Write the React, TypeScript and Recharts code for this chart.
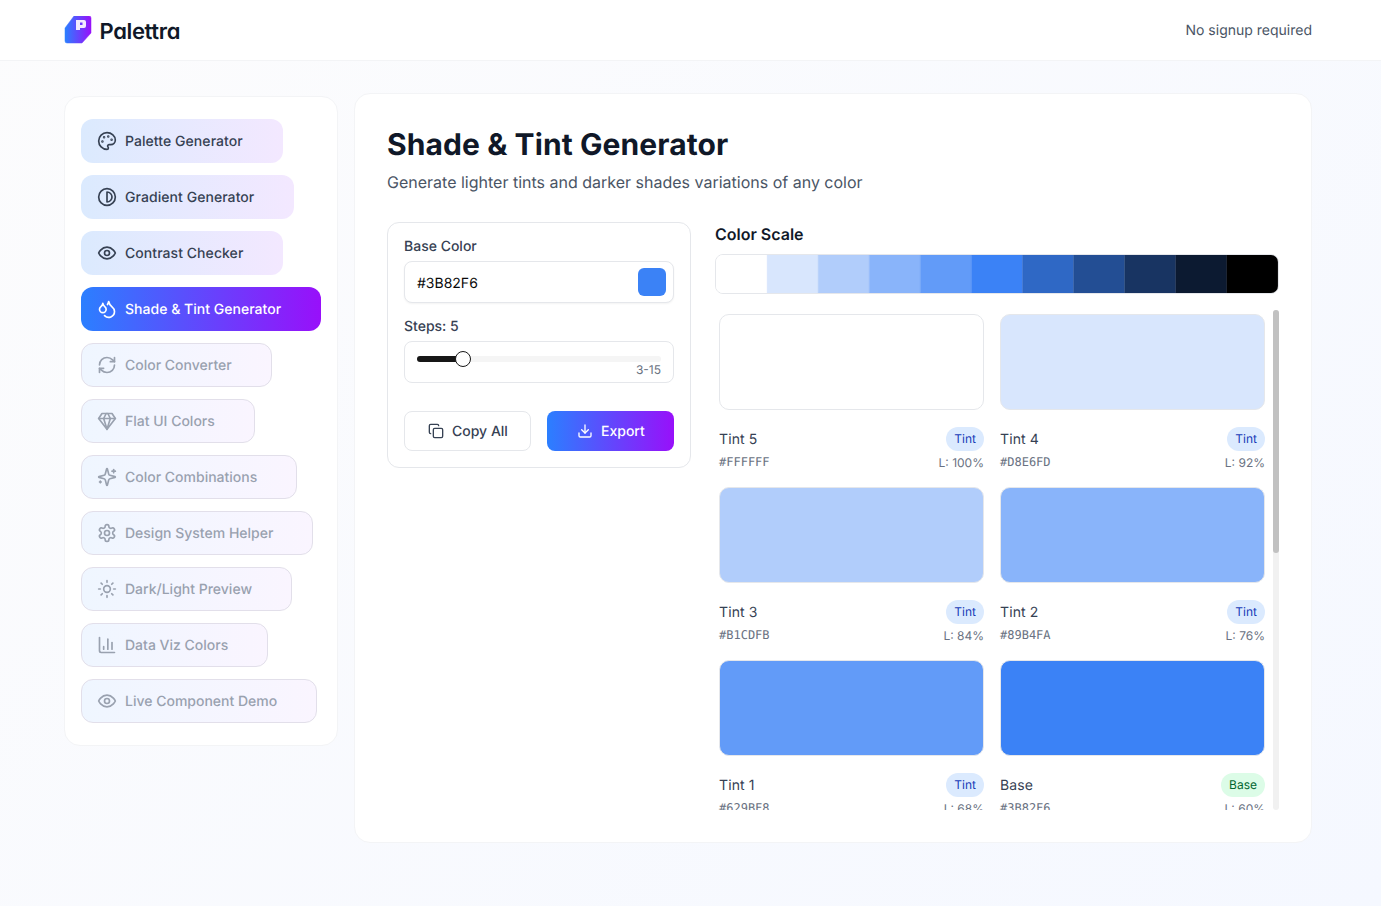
import { Bar, BarChart, Cell, XAxis, YAxis } from "recharts";
import type { CSSProperties, ReactNode } from "react";

const activeTools = ["Palette Generator", "Gradient Generator", "Contrast Checker"];
const currentTool = "Shade & Tint Generator";
const lockedTools = [
  "Color Converter",
  "Flat UI Colors",
  "Color Combinations",
  "Design System Helper",
  "Dark/Light Preview",
  "Data Viz Colors",
  "Live Component Demo",
];

const scaleHex = [
  "#FFFFFF",
  "#D8E6FD",
  "#B1CDFB",
  "#89B4FA",
  "#629BF8",
  "#3B82F6",
  "#2F68C5",
  "#234E94",
  "#183462",
  "#0C1A31",
  "#000000",
];

const swatchNames = ["Tint 5", "Tint 4", "Tint 3", "Tint 2", "Tint 1", "Base"];
const swatchHex = ["#FFFFFF", "#D8E6FD", "#B1CDFB", "#89B4FA", "#629BF8", "#3B82F6"];
const swatchKinds = ["Tint", "Tint", "Tint", "Tint", "Tint", "Base"];
const swatchLightness = [100, 92, 84, 76, 68, 60];

const scaleData = scaleHex.map((hex) => ({ hex, value: 1 }));
const swatchRows = [0, 2, 4].map((start) =>
  [start, start + 1].map((i) => ({
    name: swatchNames[i],
    hex: swatchHex[i],
    kind: swatchKinds[i],
    lightness: swatchLightness[i],
    value: 1,
  })),
);

const FONT = "Inter, sans-serif";
const MONO = "'DejaVu Sans Mono', monospace";
const BRAND = "linear-gradient(90deg, #2b7fff, #9810fa)";

function Text({
  x,
  cy,
  right,
  size = 14,
  color = "#364153",
  weight = 400,
  font = FONT,
  spacing = 0,
  children,
}: {
  x?: number;
  cy: number;
  right?: number;
  size?: number;
  color?: string;
  weight?: number;
  font?: string;
  spacing?: number;
  children: ReactNode;
}) {
  const style: CSSProperties = {
    position: "absolute",
    top: cy - 14,
    height: 30,
    lineHeight: "30px",
    fontSize: size,
    color,
    fontWeight: weight,
    fontFamily: font,
    letterSpacing: spacing,
    whiteSpace: "nowrap",
  };
  if (x !== undefined) style.left = x;
  if (right !== undefined) style.right = right;
  return <div style={style}>{children}</div>;
}

function Box({ style }: { style: CSSProperties }) {
  return <div style={{ position: "absolute", boxSizing: "border-box", ...style }} />;
}

function Icon({ size = 20, children }: { size?: number; children: ReactNode }) {
  return (
    <svg
      width={size}
      height={size}
      viewBox="0 0 24 24"
      fill="none"
      stroke="currentColor"
      strokeWidth={2}
      strokeLinecap="round"
      strokeLinejoin="round"
      style={{ flex: "none", display: "block" }}
    >
      {children}
    </svg>
  );
}

const toolIcons: Record<string, ReactNode> = {
  "Palette Generator": (
    <>
      <circle cx="13.5" cy="6.5" r=".5" fill="currentColor" />
      <circle cx="17.5" cy="10.5" r=".5" fill="currentColor" />
      <circle cx="8.5" cy="7.5" r=".5" fill="currentColor" />
      <circle cx="6.5" cy="12.5" r=".5" fill="currentColor" />
      <path d="M12 2C6.5 2 2 6.5 2 12s4.5 10 10 10c.926 0 1.648-.746 1.648-1.688 0-.437-.18-.835-.437-1.125-.29-.289-.438-.652-.438-1.125a1.64 1.64 0 0 1 1.668-1.668h1.996c3.051 0 5.555-2.503 5.555-5.554C21.965 6.012 17.461 2 12 2z" />
    </>
  ),
  "Gradient Generator": (
    <>
      <circle cx="12" cy="12" r="10" />
      <path d="M12 18a6 6 0 0 0 0-12v12z" />
    </>
  ),
  "Contrast Checker": (
    <>
      <path d="M2 12s3-7 10-7 10 7 10 7-3 7-10 7-10-7-10-7Z" />
      <circle cx="12" cy="12" r="3" />
    </>
  ),
  "Shade & Tint Generator": (
    <>
      <path d="M7 16.3c2.2 0 4-1.83 4-4.05 0-1.16-.57-2.26-1.71-3.19S7.29 6.75 7 5.3c-.29 1.45-1.14 2.84-2.29 3.76S3 11.1 3 12.25c0 2.22 1.8 4.05 4 4.05z" />
      <path d="M12.56 6.6A10.97 10.97 0 0 0 14 3.02c.5 2.5 2 4.9 4 6.5s3 3.5 3 5.5a6.98 6.98 0 0 1-11.91 4.97" />
    </>
  ),
  "Color Converter": (
    <>
      <path d="M3 12a9 9 0 0 1 9-9 9.75 9.75 0 0 1 6.74 2.74L21 8" />
      <path d="M21 3v5h-5" />
      <path d="M21 12a9 9 0 0 1-9 9 9.75 9.75 0 0 1-6.74-2.74L3 16" />
      <path d="M8 16H3v5" />
    </>
  ),
  "Flat UI Colors": (
    <>
      <path d="M6 3h12l4 6-10 13L2 9Z" />
      <path d="M11 3 8 9l4 13 4-13-3-6" />
      <path d="M2 9h20" />
    </>
  ),
  "Color Combinations": (
    <>
      <path d="M9.937 15.5A2 2 0 0 0 8.5 14.063l-6.135-1.582a.5.5 0 0 1 0-.962L8.5 9.936A2 2 0 0 0 9.937 8.5l1.582-6.135a.5.5 0 0 1 .963 0L14.063 8.5A2 2 0 0 0 15.5 9.937l6.135 1.581a.5.5 0 0 1 0 .964L15.5 14.063a2 2 0 0 0-1.437 1.437l-1.582 6.135a.5.5 0 0 1-.963 0z" />
      <path d="M20 3v4" />
      <path d="M22 5h-4" />
      <path d="M4 17v2" />
      <path d="M5 18H3" />
    </>
  ),
  "Design System Helper": (
    <>
      <path d="M12.22 2h-.44a2 2 0 0 0-2 2v.18a2 2 0 0 1-1 1.73l-.43.25a2 2 0 0 1-2 0l-.15-.08a2 2 0 0 0-2.73.73l-.22.38a2 2 0 0 0 .73 2.73l.15.1a2 2 0 0 1 1 1.72v.51a2 2 0 0 1-1 1.74l-.15.09a2 2 0 0 0-.73 2.73l.22.38a2 2 0 0 0 2.73.73l.15-.08a2 2 0 0 1 2 0l.43.25a2 2 0 0 1 1 1.73V20a2 2 0 0 0 2 2h.44a2 2 0 0 0 2-2v-.18a2 2 0 0 1 1-1.73l.43-.25a2 2 0 0 1 2 0l.15.08a2 2 0 0 0 2.73-.73l.22-.39a2 2 0 0 0-.73-2.73l-.15-.08a2 2 0 0 1-1-1.74v-.5a2 2 0 0 1 1-1.74l.15-.09a2 2 0 0 0 .73-2.73l-.22-.38a2 2 0 0 0-2.73-.73l-.15.08a2 2 0 0 1-2 0l-.43-.25a2 2 0 0 1-1-1.73V4a2 2 0 0 0-2-2z" />
      <circle cx="12" cy="12" r="3" />
    </>
  ),
  "Dark/Light Preview": (
    <>
      <circle cx="12" cy="12" r="4" />
      <path d="M12 2v2" />
      <path d="M12 20v2" />
      <path d="m4.93 4.93 1.41 1.41" />
      <path d="m17.66 17.66 1.41 1.41" />
      <path d="M2 12h2" />
      <path d="M20 12h2" />
      <path d="m6.34 17.66-1.41 1.41" />
      <path d="m19.07 4.93-1.41 1.41" />
    </>
  ),
  "Data Viz Colors": (
    <>
      <path d="M3 3v16a2 2 0 0 0 2 2h16" />
      <path d="M18 17V9" />
      <path d="M13 17V5" />
      <path d="M8 17v-3" />
    </>
  ),
  "Live Component Demo": (
    <>
      <path d="M2 12s3-7 10-7 10 7 10 7-3 7-10 7-10-7-10-7Z" />
      <circle cx="12" cy="12" r="3" />
    </>
  ),
};

function NavItem({ label, state }: { label: string; state: "active" | "current" | "locked" }) {
  const looks: Record<string, CSSProperties> = {
    active: { background: "linear-gradient(90deg, #dbeafe, #f3e8ff)", color: "#364153", letterSpacing: 0.06 },
    current: { background: BRAND, color: "#ffffff", letterSpacing: 0.02 },
    locked: {
      background: "linear-gradient(90deg, #eff6ff, #faf5ff)",
      color: "#99a1af",
      border: "1px solid #e2dfea",
    },
  };
  return (
    <div
      style={{
        display: "inline-flex",
        alignItems: "center",
        alignSelf: "flex-start",
        boxSizing: "border-box",
        height: 44,
        gap: 8,
        paddingLeft: state === "locked" ? 15 : 16,
        paddingRight: state === "locked" ? 39 : 40,
        borderRadius: 12,
        fontFamily: FONT,
        fontSize: 14,
        fontWeight: 500,
        whiteSpace: "nowrap",
        ...looks[state],
      }}
    >
      <Icon>{toolIcons[label]}</Icon>
      {label}
    </div>
  );
}

function ColorScale() {
  return (
    <div
      style={{
        position: "absolute",
        left: 715,
        top: 254,
        width: 564,
        height: 40,
        boxSizing: "border-box",
        border: "1px solid #e5e7eb",
        borderRadius: 8,
        overflow: "hidden",
      }}
    >
      <BarChart
        width={562}
        height={38}
        data={scaleData}
        margin={{ top: 0, right: 0, bottom: 0, left: 0 }}
        barCategoryGap={0}
      >
        <XAxis dataKey="hex" hide />
        <YAxis hide domain={[0, 1]} />
        <Bar dataKey="value" isAnimationActive={false}>
          {scaleData.map((d) => (
            <Cell key={d.hex} fill={d.hex} stroke={d.hex} strokeWidth={0.4} />
          ))}
        </Bar>
      </BarChart>
    </div>
  );
}

function SwatchRow({ row, top }: { row: (typeof swatchRows)[number]; top: number }) {
  return (
    <div style={{ position: "absolute", left: 0, top, width: 562, height: 160 }}>
      <BarChart
        width={562}
        height={96}
        data={row}
        margin={{ top: 0.5, right: 0, bottom: 0.5, left: 0 }}
        barCategoryGap={8.5}
      >
        <XAxis dataKey="name" hide />
        <YAxis hide domain={[0, 1]} />
        <Bar dataKey="value" radius={9.5} isAnimationActive={false}>
          {row.map((d) => (
            <Cell key={d.name} fill={d.hex} stroke="#e5e7eb" strokeWidth={1} />
          ))}
        </Bar>
      </BarChart>
      {row.map((d, i) => {
        const left = 8 + i * 281;
        const isBase = d.kind === "Base";
        return (
          <div key={d.name} style={{ position: "absolute", left, top: 0, width: 265, height: 160 }}>
            <Text x={0} cy={125} spacing={0.12}>
              {d.name}
            </Text>
            <div
              style={{
                position: "absolute",
                right: 0,
                top: 113,
                height: 24,
                lineHeight: "24px",
                padding: "0 8px",
                borderRadius: 12,
                fontSize: 12,
                fontFamily: FONT,
                background: isBase ? "#dcfce7" : "#dbeafe",
                color: isBase ? "#016630" : "#193cb8",
              }}
            >
              {d.kind}
            </div>
            <Text x={0} cy={147} size={12} color="#6a7282" font={MONO}>
              {d.hex}
            </Text>
            <Text right={0} cy={148} size={12} color="#6a7282">
              L: {d.lightness}%
            </Text>
          </div>
        );
      })}
    </div>
  );
}

export default function App() {
  return (
    <div
      style={{
        position: "absolute",
        left: 0,
        top: 0,
        width: 1381,
        height: 906,
        overflow: "hidden",
        fontFamily: FONT,
        textRendering: "geometricPrecision",
        background: "linear-gradient(135deg, #fcfcfd, #f5f8ff)",
      }}
    >
      {/* header */}
      <Box style={{ left: 0, top: 0, width: 1381, height: 61, background: "#ffffff", borderBottom: "1px solid #f3f4f6" }} />
      <svg width={28} height={28} viewBox="0 0 28 28" style={{ position: "absolute", left: 64, top: 16 }}>
        <defs>
          <linearGradient id="logoFill" x1="0" y1="0" x2="1" y2="0">
            <stop offset="0" stopColor="#2b7fff" />
            <stop offset="1" stopColor="#9810fa" />
          </linearGradient>
        </defs>
        <path
          d="M10 0H25a2 2 0 0 1 2 2V17L18 27H3a2 2 0 0 1-2-2V12Z"
          fill="url(#logoFill)"
          stroke="url(#logoFill)"
          strokeWidth={0.5}
          strokeLinejoin="round"
        />
        <path
          fillRule="evenodd"
          d="M12 4H20a2 2 0 0 1 2 2V10a2 2 0 0 1-2 2H16V14H12ZM16 6.5V9H18.5V6.5Z"
          fill="#f3eafe"
        />
      </svg>
      <div
        style={{
          position: "absolute",
          left: 99.5,
          top: 17,
          lineHeight: "30px",
          fontSize: 22,
          fontWeight: 600,
          color: "#101828",
          fontFeatureSettings: "'cv11'",
          letterSpacing: -0.35,
          whiteSpace: "nowrap",
        }}
      >
        Palettra
      </div>
      <Text right={69} cy={30} color="#4a5565">
        No signup required
      </Text>

      {/* sidebar */}
      <div
        style={{
          position: "absolute",
          left: 64,
          top: 96,
          width: 274,
          height: 650,
          boxSizing: "border-box",
          background: "#ffffff",
          border: "1px solid #f3f4f6",
          borderRadius: 16,
          padding: "22px 16px",
          display: "flex",
          flexDirection: "column",
          gap: 12,
        }}
      >
        {activeTools.map((t) => (
          <NavItem key={t} label={t} state="active" />
        ))}
        <NavItem label={currentTool} state="current" />
        {lockedTools.map((t) => (
          <NavItem key={t} label={t} state="locked" />
        ))}
      </div>

      {/* main panel */}
      <Box
        style={{
          left: 354,
          top: 93,
          width: 958,
          height: 750,
          background: "#ffffff",
          border: "1px solid #f3f4f6",
          borderRadius: 16,
        }}
      />
      <Text x={387} cy={144} size={30} color="#101828" weight={700} spacing={0.09}>
        Shade &amp; Tint Generator
      </Text>
      <Text x={387} cy={181} size={16} color="#4a5565">
        Generate lighter tints and darker shades variations of any color
      </Text>

      {/* controls */}
      <Box style={{ left: 387, top: 222, width: 304, height: 246, background: "#fff", border: "1px solid #e5e7eb", borderRadius: 12 }} />
      <Text x={404} cy={246} weight={500}>
        Base Color
      </Text>
      <Box style={{ left: 404, top: 261, width: 270, height: 42, background: "#fff", border: "1px solid #e5e7eb", borderRadius: 8, boxShadow: "0 1px 2px rgba(0,0,0,.05)" }} />
      <Text x={417} cy={283} color="#0a0a0a">
        #3B82F6
      </Text>
      <Box style={{ left: 638, top: 268, width: 28, height: 28, background: "#3b82f6", borderRadius: 6 }} />
      <Text x={404} cy={326} weight={500}>
        Steps: 5
      </Text>
      <Box style={{ left: 404, top: 341, width: 270, height: 42, background: "#fff", border: "1px solid #e5e7eb", borderRadius: 8 }} />
      <Box style={{ left: 417, top: 356, width: 244, height: 6, background: "#f5f5f5", borderRadius: 3 }} />
      <Box style={{ left: 417, top: 356, width: 46, height: 6, background: "#171717", borderRadius: 3 }} />
      <Box style={{ left: 455, top: 351, width: 16, height: 16, background: "#fff", border: "1px solid #171717", borderRadius: 8 }} />
      <Text right={720} cy={369} size={12} color="#6a7282">
        3-15
      </Text>

      <Box style={{ left: 404, top: 411, width: 127, height: 40, background: "#fff", border: "1px solid #e5e7eb", borderRadius: 8 }} />
      <div style={{ position: "absolute", left: 428, top: 423, color: "#364153" }}>
        <Icon size={16}>
          <rect x="8" y="8" width="14" height="14" rx="2" />
          <path d="M4 16c-1.1 0-2-.9-2-2V4c0-1.1.9-2 2-2h10c1.1 0 2 .9 2 2" />
        </Icon>
      </div>
      <Text x={452} cy={431} weight={500}>
        Copy All
      </Text>
      <Box style={{ left: 547, top: 411, width: 127, height: 40, background: BRAND, borderRadius: 8 }} />
      <div style={{ position: "absolute", left: 577, top: 423, color: "#ffffff" }}>
        <Icon size={16}>
          <path d="M21 15v4a2 2 0 0 1-2 2H5a2 2 0 0 1-2-2v-4" />
          <path d="M7 10l5 5 5-5" />
          <path d="M12 15V3" />
        </Icon>
      </div>
      <Text x={601} cy={431} color="#ffffff" weight={500}>
        Export
      </Text>

      {/* colour scale */}
      <Text x={715} cy={233} size={16} color="#101828" weight={600}>
        Color Scale
      </Text>
      <ColorScale />

      {/* swatch list */}
      <div style={{ position: "absolute", left: 711, top: 310, width: 562, height: 500, overflow: "hidden" }}>
        {swatchRows.map((row, i) => (
          <SwatchRow key={row[0].name} row={row} top={4 + i * 173} />
        ))}
      </div>
      <Box style={{ left: 1273, top: 310, width: 6, height: 500, background: "#f1f1f1", borderRadius: 3 }} />
      <Box style={{ left: 1273, top: 310, width: 6, height: 243, background: "#c1c1c1", borderRadius: 3 }} />
    </div>
  );
}
